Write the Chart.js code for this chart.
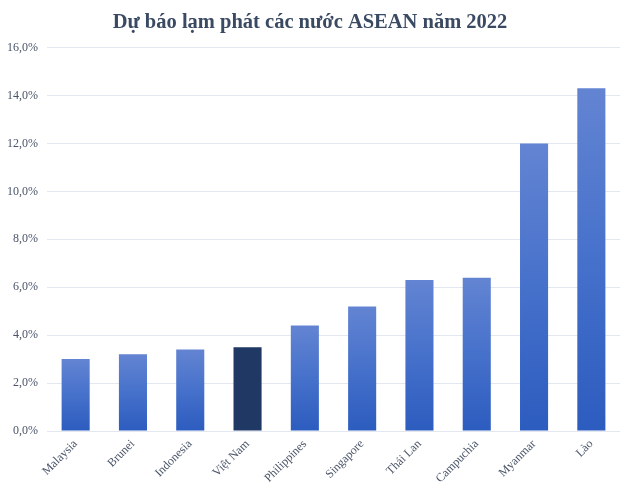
<!DOCTYPE html>
<html>
<head>
<meta charset="utf-8">
<script src="https://cdn.jsdelivr.net/npm/chart.js@4/dist/chart.umd.min.js"></script>
<style>
    html, body { margin: 0; padding: 0; background: #ffffff; }
    #wrap { width: 630px; height: 499px; }
</style>
</head>
<body>
<div id="wrap"><canvas id="inflationChart" width="630" height="499"></canvas></div>
<script>
// Data (% inflation forecast, 2022)
const countries = ['Malaysia', 'Brunei', 'Indonesia', 'Việt Nam', 'Philippines',
                   'Singapore', 'Thái Lan', 'Campuchia', 'Myanmar', 'Lào'];
const inflation = [3.0, 3.2, 3.4, 3.5, 4.4, 5.2, 6.3, 6.4, 12.0, 14.3];
const highlight = 'Việt Nam';
const yTicks = [0, 2, 4, 6, 8, 10, 12, 14, 16];

const serif = "'Liberation Serif', 'Times New Roman', serif";
const textColor = '#4a5468';

// Each bar gets its own vertical gradient (light top -> darker bottom)
function barColor(ctx) {
    const chart = ctx.chart;
    if (countries[ctx.dataIndex] === highlight) return '#203864';
    if (!chart.chartArea || !chart.scales.y) return '#4a72cc';
    const y = chart.scales.y;
    const top = y.getPixelForValue(ctx.raw);
    const bottom = y.getPixelForValue(0);
    if (!isFinite(top) || !isFinite(bottom) || top === bottom) return '#4a72cc';
    const g = chart.ctx.createLinearGradient(0, top, 0, bottom);
    g.addColorStop(0, '#6384d2');
    g.addColorStop(0.5, '#4671cb');
    g.addColorStop(1, '#2c5cbf');
    return g;
}

const inflationChart = new Chart(document.getElementById('inflationChart').getContext('2d'), {
    type: 'bar',
    data: {
        labels: countries,
        datasets: [{
            label: 'Lạm phát',
            data: inflation,
            backgroundColor: barColor,
            borderWidth: 0,
            categoryPercentage: 1,
            barPercentage: 0.49
        }]
    },
    options: {
        responsive: false,
        animation: false,
        layout: { padding: { left: 0, right: 10, top: 0, bottom: 0 } },
        plugins: {
            legend: { display: false },
            tooltip: { enabled: false },
            title: {
                display: true,
                text: 'Dự báo lạm phát các nước ASEAN năm 2022',
                color: '#3b4a63',
                font: { family: serif, size: 20.5, weight: 'bold', lineHeight: 1.2 },
                padding: { top: 10, bottom: 13 }
            }
        },
        scales: {
            x: {
                grid: { display: false, drawTicks: false },
                border: { display: false },
                ticks: {
                    color: textColor,
                    font: { family: serif, size: 12 },
                    maxRotation: 45,
                    minRotation: 45,
                    padding: 6
                },
                afterFit: (scale) => { scale.height = 68; }
            },
            y: {
                min: 0,
                max: 16,
                grid: { color: '#e3e8f0', lineWidth: 1, drawTicks: false },
                border: { display: false },
                afterBuildTicks: (scale) => { scale.ticks = yTicks.map(v => ({ value: v })); },
                ticks: {
                    color: textColor,
                    font: { family: serif, size: 12 },
                    padding: 9,
                    callback: (v) => v.toFixed(1).replace('.', ',') + '%'
                },
                afterFit: (scale) => { scale.width = 47; }
            }
        }
    }
});
</script>
</body>
</html>
